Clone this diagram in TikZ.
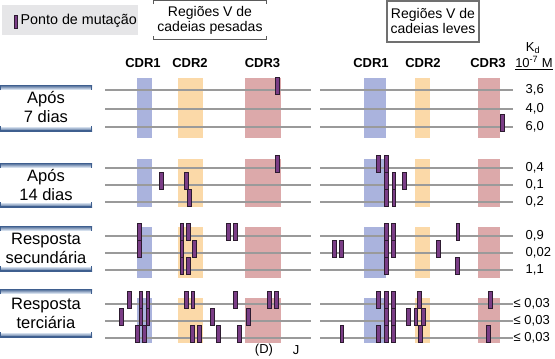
\documentclass[tikz,border=0pt]{standalone}
\usepackage{fontspec}
\setmainfont{Liberation Sans}
\definecolor{cblue}{HTML}{AAB3DD}
\definecolor{corange}{HTML}{FBD9A8}
\definecolor{cpink}{HTML}{DCA9AA}
\definecolor{linegray}{HTML}{9A9A9A}
\definecolor{mutfill}{HTML}{7A3D86}
\definecolor{mutborder}{HTML}{2D1B30}
\definecolor{legendgray}{HTML}{E6E6E8}
\definecolor{boxgray}{HTML}{707070}
\definecolor{labdark}{HTML}{3F5F8F}
\definecolor{lablight}{HTML}{D3DEEC}
\begin{document}
\begin{tikzpicture}[x=1pt,y=-1pt,
  lab/.style={font=\fontsize{16.5}{19}\selectfont, align=center, inner sep=0pt},
  hdr/.style={font=\fontsize{14}{15}\selectfont, align=center, inner sep=0pt},
  cdr/.style={font=\bfseries\fontsize{13}{14}\selectfont, inner sep=0pt},
  kd/.style={font=\fontsize{13}{15}\selectfont, anchor=west, inner sep=0pt},
  mut/.style={rectangle, draw=mutborder, fill=mutfill, line width=0.6pt, minimum width=3.6pt, minimum height=17pt, inner sep=0pt},
  rowline/.style={draw=linegray, line width=1.3pt},
  labbar/.style={draw=labdark, line width=1pt}
]
\useasboundingbox (0,0) rectangle (555,359);

% legend
\fill[legendgray] (2,5) rectangle (138,35);
\node[mut, minimum height=13pt, minimum width=3.2pt] (legmut) at (16,21.5) {};
\node[font=\fontsize{14.3}{15}\selectfont, anchor=west, inner sep=0pt] (legtxt) at (20.5,21) {Ponto de mutação};

% headers
\draw[boxgray!80!black, line width=1.3pt] (153.5,4) -- (153.5,0.7) -- (266.5,0.7) -- (266.5,4);
\draw[boxgray!80!black, line width=1.3pt] (153.5,36) -- (153.5,39.5) -- (266.5,39.5) -- (266.5,36);
\node[hdr] (hpes) at (210,20.5) {Regiões V de\\cadeias pesadas};
\draw[boxgray, line width=1.5pt] (387,1) rectangle (479,42);
\node[hdr] (hlev) at (433,21) {Regiões V de\\cadeias leves};

\node[cdr] (c1h) at (143,63) {CDR1};
\node[cdr] (c2h) at (190,63) {CDR2};
\node[cdr] (c3h) at (262.5,63) {CDR3};
\node[cdr] (c1l) at (371,63) {CDR1};
\node[cdr] (c2l) at (423,63) {CDR2};
\node[cdr] (c3l) at (488,63) {CDR3};
\node[font=\fontsize{13}{15}\selectfont, inner sep=0pt] (kdh) at (533,48) {K\textsubscript{d}};
\node[font=\fontsize{13}{15}\selectfont, inner sep=0pt] (kdu) at (534,63) {\underline{10\textsuperscript{-7} M}};

% groups
\foreach \t/\b/\la/\lb/\lc/\T/\B in {78/138/90/109/127/85/131, 159/207/168/185/202/163/207, 227/278/236/253/270/226/271, 298/343/304/321/338/289/337}{
  \fill[cblue] (137,\t) rectangle (152,\b);
  \fill[corange] (178,\t) rectangle (203,\b);
  \fill[cpink] (245,\t) rectangle (281,\b);
  \fill[cblue] (364,\t) rectangle (386,\b);
  \fill[corange] (415,\t) rectangle (430,\b);
  \fill[cpink] (478,\t) rectangle (500,\b);
  \foreach \l in {\la,\lb,\lc}{
    \draw[rowline] (105,\l) -- (311,\l);
    \draw[rowline] (320,\l) -- (513,\l);
  }
  % label box bars
  \shade[top color=labdark, bottom color=lablight] (0,\T) rectangle (92,\T+4);
  \shade[top color=lablight, bottom color=labdark] (0,\B-4) rectangle (92,\B);
  \draw[labbar] (0.5,\T+5) -- (0.5,\T+0.5) -- (91.5,\T+0.5) -- (91.5,\T+5);
  \draw[labbar] (0.5,\B-5) -- (0.5,\B-0.5) -- (91.5,\B-0.5) -- (91.5,\B-5);
}

\node[lab] (g1) at (46,107) {Após\\7 dias};
\node[lab] (g2) at (46,185) {Após\\14 dias};
\node[lab] (g3) at (46,248) {Resposta\\secundária};
\node[lab] (g4) at (46,313) {Resposta\\terciária};

% Kd values
\foreach \v/\y [count=\i] in {3{,}6/90, 4{,}0/109, 6{,}0/127, 0{,}4/168, 0{,}1/185, 0{,}2/202, 0{,}9/236, 0{,}02/253, 1{,}1/270}{
  \node[kd] (kv\i) at (525.5,\y) {\v};
}
\foreach \y [count=\i] in {304,321,338}{
  \node[kd] (kw\i) at (513.5,\y) {≤ 0,03};
}

% mutation points
\foreach \x/\l [count=\i] in {
  277/90, 502/127,
  277/168, 161/185, 186/185, 189/202, 378.5/168, 386/168, 386/185, 386/202, 393.7/185, 393.7/202, 404/185,
  139.3/236, 139.3/253, 181.7/236, 188.3/236, 181.7/253, 194.3/253, 181.7/270, 188.3/270, 228.3/236, 235/236,
  334/253, 341.3/253, 386/236, 393.3/236, 386/253, 393.3/253, 386/270, 438.3/253, 457.7/236, 457/270,
  129.3/304, 140.7/304, 147.7/304, 121/321, 140.7/321, 147.7/321, 137/338, 144/338,
  186/304, 192.7/304, 192.3/338, 199.3/338, 212.3/321, 218.3/338, 235/304, 239/338, 248.3/321, 269.3/304, 276/304,
  341.7/338, 378.3/304, 386/304, 393.3/304, 386/321, 393.3/321, 378.3/338, 386/338, 393.3/338,
  408.3/321, 415.7/321, 423.3/321, 419.3/304, 420.3/338, 490/304, 488.3/338}{
  \node[mut] (m\i) at (\x,\l-4.5) {};
}

\node[font=\fontsize{13}{14}\selectfont, inner sep=0pt] (dlab) at (264,350) {(D)};
\node[font=\fontsize{13}{14}\selectfont, inner sep=0pt] (jlab) at (296,350) {J};
\end{tikzpicture}
\end{document}
